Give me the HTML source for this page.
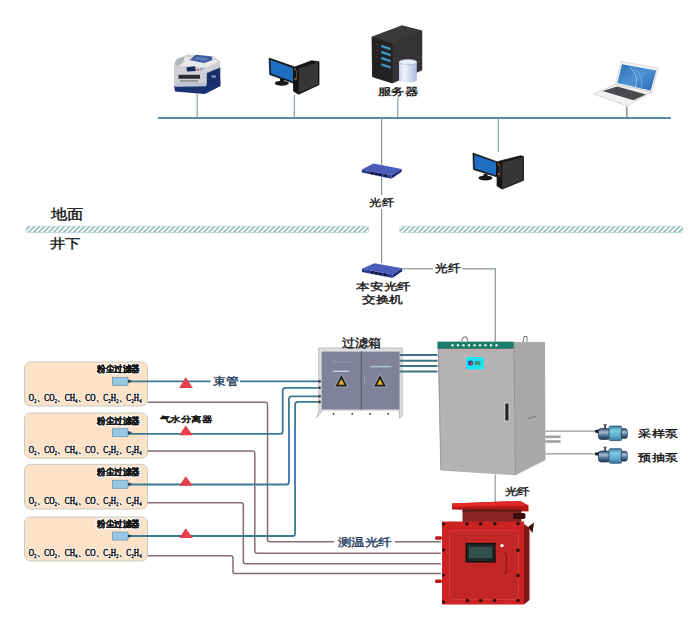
<!DOCTYPE html>
<html><head><meta charset="utf-8">
<style>
html,body{margin:0;padding:0;background:#fff;}
body{width:700px;height:617px;overflow:hidden;position:relative;}
svg{position:absolute;left:0;top:0;}
text{font-family:"Liberation Serif",serif;font-weight:normal;fill:#151515;}
</style></head><body>
<svg width="700" height="617" viewBox="0 0 700 617">
<defs>
<pattern id="hatch" width="5" height="7" patternUnits="userSpaceOnUse" patternTransform="skewX(-45)">
<rect width="5" height="7" fill="#f6fbfb"/>
<rect x="0" width="2.0" height="7" fill="#8eb0b6"/>
</pattern>
<linearGradient id="dbg" x1="0" y1="0" x2="1" y2="0">
<stop offset="0" stop-color="#c9d5ee"/><stop offset="0.3" stop-color="#eef3fc"/><stop offset="1" stop-color="#a9bada"/>
</linearGradient>
<linearGradient id="scr" x1="0" y1="0" x2="1" y2="1">
<stop offset="0" stop-color="#2d6fb8"/><stop offset="0.5" stop-color="#4d92d2"/><stop offset="1" stop-color="#2a68b0"/>
</linearGradient>
<linearGradient id="pumpg" x1="0" y1="0" x2="0" y2="1">
<stop offset="0" stop-color="#3a7aa0"/><stop offset="0.3" stop-color="#7ccce0"/><stop offset="0.7" stop-color="#58aac8"/><stop offset="1" stop-color="#3a78a0"/>
</linearGradient>
<linearGradient id="pumpm" x1="0" y1="0" x2="0" y2="1">
<stop offset="0" stop-color="#2e4a6e"/><stop offset="0.35" stop-color="#a8bcd2"/><stop offset="0.6" stop-color="#5a7a9a"/><stop offset="1" stop-color="#203650"/>
</linearGradient>
</defs>

<!-- ===== top network ===== -->
<line x1="158" y1="118" x2="671" y2="118" stroke="#5b8ca6" stroke-width="1.8"/>
<g stroke="#7f98a4" stroke-width="1.1">
<line x1="197.2" y1="94" x2="197.2" y2="117"/>
<line x1="294.3" y1="95" x2="294.3" y2="117"/>
<line x1="397.8" y1="97.5" x2="397.8" y2="117"/>
<line x1="498.3" y1="119" x2="498.3" y2="152"/>
</g>
<line x1="626.8" y1="106.6" x2="626.8" y2="117" stroke="#7a7a7a" stroke-width="1.3"/>

<!-- trunk -->
<g stroke="#86959b" stroke-width="1.2">
<line x1="381.6" y1="119" x2="381.6" y2="165"/>
<line x1="381.6" y1="177" x2="381.6" y2="195"/>
<line x1="381.6" y1="209" x2="381.6" y2="263"/>
</g>

<!-- hatch bars -->
<rect x="26" y="226.3" width="343" height="6.4" rx="3.2" fill="url(#hatch)" stroke="#b4d2d2" stroke-width="0.7"/>
<rect x="399.5" y="226.3" width="283.5" height="6.4" rx="3.2" fill="url(#hatch)" stroke="#b4d2d2" stroke-width="0.7"/>
<text stroke="#151515" stroke-width="0.35" x="50.58" y="218.82" font-size="14.48" textLength="32.69" lengthAdjust="spacingAndGlyphs">地面</text>
<text stroke="#151515" stroke-width="0.35" x="49.72" y="247.88" font-size="13.45" textLength="30.65" lengthAdjust="spacingAndGlyphs">井下</text>

<!-- switch 1 -->
<g>
<polygon points="361.8,169.5 373.5,163.6 401.7,169 391.5,175.3" fill="#4a5cbc"/>
<polygon points="361.8,169.5 391.5,175.3 391.5,178.7 361.8,172.6" fill="#2b3a92"/>
<polygon points="391.5,175.3 401.7,169 401.7,171.8 391.5,178.7" fill="#1f2b78"/>
<g fill="#101018"><rect x="371" y="172.3" width="2.6" height="2"/><rect x="375" y="173" width="2.6" height="2"/><rect x="379" y="173.7" width="2.6" height="2"/><rect x="384" y="174.6" width="2.6" height="2"/></g>
</g>
<text stroke="#151515" stroke-width="0.35" x="369.24" y="205.72" font-size="9.58" textLength="24.88" lengthAdjust="spacingAndGlyphs">光纤</text>

<!-- switch 2 -->
<g>
<polygon points="361.9,268.8 374.4,263.2 402.2,268.3 392.6,274.6" fill="#4a5cbc"/>
<polygon points="361.9,268.8 392.6,274.6 392.6,277.9 361.9,272" fill="#2b3a92"/>
<polygon points="392.6,274.6 402.2,268.3 402.2,271.2 392.6,277.9" fill="#1f2b78"/>
<g fill="#101018"><rect x="371" y="271.5" width="2.6" height="2"/><rect x="375" y="272.2" width="2.6" height="2"/><rect x="379" y="272.9" width="2.6" height="2"/><rect x="384" y="273.8" width="2.6" height="2"/></g>
</g>
<text stroke="#151515" stroke-width="0.35" x="356.48" y="289.74" font-size="10.06" textLength="54.15" lengthAdjust="spacingAndGlyphs">本安光纤</text>
<text stroke="#151515" stroke-width="0.35" x="362.10" y="303.44" font-size="9.54" textLength="40.91" lengthAdjust="spacingAndGlyphs">交换机</text>

<!-- fiber to cabinet -->
<line x1="402" y1="268.8" x2="433" y2="268.8" stroke="#86959b" stroke-width="1.2"/>
<polyline points="462,268.8 495.3,268.8 495.3,341.5" fill="none" stroke="#86959b" stroke-width="1.2"/>
<text stroke="#151515" stroke-width="0.35" x="435.16" y="271.68" font-size="10.53" textLength="25.60" lengthAdjust="spacingAndGlyphs">光纤</text>

<!-- ===== cabinet ===== -->
<polygon points="513.6,342 545,342 545.5,460 515.5,475.3" fill="#a9a9a9"/>
<polygon points="437.5,341.7 513.6,341.7 515.5,475.3 440.8,470.5" fill="#b3b3b3"/>
<line x1="438.5" y1="350" x2="440.8" y2="470" stroke="#9a9a9a" stroke-width="1"/>
<line x1="513.8" y1="342" x2="515.5" y2="475" stroke="#8e8e8e" stroke-width="0.9"/>
<rect x="437.5" y="341.7" width="76.1" height="7.1" fill="#1b7c6c"/>
<line x1="438" y1="349.8" x2="513" y2="349.8" stroke="#d6a0ae" stroke-width="0.9"/>
<g fill="#e6f2ee">
<circle cx="452.5" cy="345.3" r="1.2"/><circle cx="458" cy="345.3" r="1.2"/><circle cx="463.5" cy="345.3" r="1.2"/><circle cx="469" cy="345.3" r="1.2"/><circle cx="474.5" cy="345.3" r="1.2"/><circle cx="480" cy="345.3" r="1.2"/><circle cx="485.5" cy="345.3" r="1.2"/><circle cx="491" cy="345.3" r="1.2"/><circle cx="496.5" cy="345.3" r="1.2"/>
</g>
<rect x="463.5" y="355" width="22" height="16.5" fill="#c8aeb8" opacity="0.6"/>
<rect x="466" y="357" width="18" height="12.5" fill="#1ee4f2"/>
<circle cx="470.5" cy="363" r="2.5" fill="#2a3aa0"/>
<circle cx="471.3" cy="363.5" r="1.2" fill="#e04040"/>
<rect x="474.5" y="361" width="6" height="4" fill="#3a9a7a"/>
<path d="M461.5,341 L463.5,337 L466.5,337 L468,341" fill="none" stroke="#555" stroke-width="0.9"/>
<path d="M523,342 L524,336.5 L527,336.5 L527,342" fill="none" stroke="#666" stroke-width="0.9"/>
<rect x="504.3" y="402.5" width="5.2" height="19" fill="#d0d0d0"/>
<rect x="505.3" y="403.5" width="3.2" height="17" fill="#262626"/>
<line x1="528" y1="418.5" x2="536" y2="416" stroke="#777" stroke-width="1"/>

<!-- pump lines -->
<line x1="545.5" y1="431.2" x2="596" y2="431.2" stroke="#8e9a9e" stroke-width="1.3"/>
<line x1="545.5" y1="453.8" x2="596" y2="453.8" stroke="#8e9a9e" stroke-width="1.3"/>
<line x1="545.5" y1="436.8" x2="560.5" y2="436.8" stroke="#a0a0a0" stroke-width="2.6"/>
<line x1="545.5" y1="441.5" x2="560.5" y2="441.5" stroke="#a0a0a0" stroke-width="2.6"/>

<!-- pumps -->
<g id="pump">
<polygon points="595,430.2 599,429.3 599,433.5 595,432.4" fill="#1e2228"/>
<rect x="598.4" y="428.4" width="11.5" height="11" rx="3" fill="url(#pumpm)" stroke="#1f3048" stroke-width="0.7"/>
<rect x="609" y="426.1" width="12.8" height="14.5" rx="1.5" fill="url(#pumpg)" stroke="#28486c" stroke-width="0.8"/>
<rect x="621.2" y="428.6" width="6.1" height="10" rx="2.5" fill="url(#pumpm)" stroke="#1f3048" stroke-width="0.7"/>
<rect x="604.3" y="424.5" width="1.6" height="4.2" fill="#24344c"/>
<rect x="603.4" y="424" width="3.4" height="1.3" fill="#7a6450"/>
</g>
<use href="#pump" transform="translate(0,22.6)"/>
<text stroke="#151515" stroke-width="0.35" x="638.48" y="436.6" font-size="10.3" textLength="39.42" lengthAdjust="spacingAndGlyphs">采样泵</text>
<text stroke="#151515" stroke-width="0.35" x="638.48" y="460.9" font-size="10.3" textLength="39.42" lengthAdjust="spacingAndGlyphs">预抽泵</text>

<!-- ===== peach boxes ===== -->
<g fill="#fee2c8" stroke="#c5cec6" stroke-width="1">
<rect x="24.5" y="362" width="123" height="44" rx="6"/>
<rect x="24.5" y="413" width="123" height="45.2" rx="6"/>
<rect x="24.5" y="464.3" width="123" height="44.8" rx="6"/>
<rect x="24.5" y="517" width="123" height="44" rx="6"/>
</g>

<!-- maroon lines -->
<g stroke="#876d74" stroke-width="1.5" fill="none">
<path d="M147.6,402.3 L265.30,402.30 Q267.5,402.3 267.50,404.50 L267.50,539.60 Q267.5,541.8 269.70,541.80 L441,541.8"/>
<path d="M147.6,451 L252.60,451.00 Q254.8,451 254.80,453.20 L254.80,551.10 Q254.8,553.3 257.00,553.30 L441,553.3"/>
<path d="M147.6,502.8 L241.10,502.80 Q243.3,502.8 243.30,505.00 L243.30,561.50 Q243.3,563.7 245.50,563.70 L441,563.7"/>
<path d="M147.6,555.7 L230.80,555.70 Q233,555.7 233.00,557.90 L233.00,571.40 Q233,573.6 235.20,573.60 L441,573.6"/>
</g>

<!-- blue tube lines -->
<g stroke="#3c7a94" stroke-width="1.8" fill="none">
<path d="M128,381.3 L210.5,381.3"/>
<path d="M240,381.3 L319.5,381.3"/>
<path d="M128,433.8 L280.10,433.80 Q282.7,433.8 282.70,431.20 L282.70,390.40 Q282.7,387.8 285.30,387.80 L319.5,387.8"/>
<path d="M128,484.5 L286.30,484.50 Q288.9,484.5 288.90,481.90 L288.90,399.00 Q288.9,396.4 291.50,396.40 L319.5,396.4"/>
<path d="M128,536 L292.50,536.00 Q295.1,536 295.10,533.40 L295.10,404.40 Q295.1,401.8 297.70,401.80 L319.5,401.8"/>
</g>
<g stroke="#4e7cc4" stroke-width="1.7" fill="none">
<line x1="288.9" y1="427" x2="288.9" y2="482"/>
<line x1="295.1" y1="427" x2="295.1" y2="485"/>
</g>

<!-- triangles -->
<g fill="#e6404e">
<polygon points="185.7,377 179.2,388 192.9,388"/>
<polygon points="185.7,425.5 179.2,435.2 192.9,435.2"/>
<polygon points="185.7,476.3 179.2,485.8 192.9,485.8"/>
<polygon points="185.7,528.2 179.2,538 192.9,538"/>
</g>
<text stroke="#1f3d60" stroke-width="0.35" x="213.06" y="384.78" font-size="11.10" style="fill:#1f3d60" textLength="25.35" lengthAdjust="spacingAndGlyphs">束管</text>
<text stroke="#151515" stroke-width="0.5" x="159.72" y="421.88" font-size="8.06" textLength="52.24" lengthAdjust="spacingAndGlyphs">气水分离器</text>
<rect x="334" y="536" width="61" height="11" fill="#fff"/>
<text stroke="#1f3d60" stroke-width="0.35" x="337.58" y="545.64" font-size="11.16" style="fill:#1f3d60" textLength="54.09" lengthAdjust="spacingAndGlyphs">测温光纤</text>

<!-- box contents -->
<g id="boxc">
<text x="97" y="372.3" font-size="8.5" style="font-weight:bold" stroke="#fff" stroke-width="2.2" paint-order="stroke" textLength="43" lengthAdjust="spacingAndGlyphs">粉尘过滤器</text>
<text x="97" y="372.3" font-size="8.5" style="font-weight:bold" stroke="#151515" stroke-width="0.2" textLength="43" lengthAdjust="spacingAndGlyphs">粉尘过滤器</text>
<rect x="112.4" y="377.3" width="15.5" height="8" fill="#96c8e4" stroke="#6d9cb6" stroke-width="0.8"/>
<polygon points="128,379.5 131.5,380.6 131.5,382 128,383" fill="#2a4a60"/>
<text x="28.7" y="401.3" font-size="9.5" font-weight="bold" stroke="#fff" stroke-width="1.8" paint-order="stroke" textLength="113" lengthAdjust="spacingAndGlyphs">O₂、CO₂、CH₄、CO、C₂H₂、C₂H₄</text>
<text x="28.7" y="401.3" font-size="9.5" font-weight="bold" stroke="#151515" stroke-width="0.3" textLength="113" lengthAdjust="spacingAndGlyphs">O₂、CO₂、CH₄、CO、C₂H₂、C₂H₄</text>
</g>
<use href="#boxc" transform="translate(0,51.4)"/>
<use href="#boxc" transform="translate(0,103)"/>
<use href="#boxc" transform="translate(0,154.8)"/>

<!-- ===== filter box ===== -->
<g>
<path d="M318.7,348 L402.2,348 L402.2,416 L399.5,418 L399.5,410 L321.6,410 L321.6,412 L316,418 L318.7,412 Z" fill="#dedede" stroke="#b0b0b0" stroke-width="0.8"/>
<rect x="321.6" y="351.6" width="78" height="57.8" fill="#81819a"/>
<line x1="361.2" y1="351.6" x2="361.2" y2="409.4" stroke="#5c5c70" stroke-width="1.2"/>
<polygon points="341.4,373.5 334.3,387.3 348.5,387.3" fill="#b0b0c4"/>
<polygon points="341.4,375 335.5,386.5 347.3,386.5" fill="#1a1a1a"/>
<polygon points="341.4,379 338.3,384.8 344.5,384.8" fill="#d8b020"/>
<polygon points="380,373.5 372.8,387.3 387.2,387.3" fill="#b0b0c4"/>
<polygon points="380,375 374,386.5 386,386.5" fill="#1a1a1a"/>
<polygon points="380,379 376.9,384.8 383.1,384.8" fill="#d8b020"/>
<rect x="332" y="361.5" width="19" height="0.9" fill="#9296b4"/>
<rect x="333" y="370.6" width="16" height="1.3" fill="#d0d8f4"/>
<rect x="370.5" y="365.8" width="21" height="1.6" fill="#a8c0c8"/>
<rect x="364" y="375" width="1" height="8" fill="#a0a0b0"/>
<g fill="#222"><circle cx="333.5" cy="413.8" r="0.9"/><circle cx="352.2" cy="413.8" r="0.9"/><circle cx="370.1" cy="413.8" r="0.9"/><circle cx="388.2" cy="413.8" r="0.9"/></g>
<g fill="#333"><circle cx="319.6" cy="381.2" r="1.3"/><circle cx="319.6" cy="387.8" r="1.3"/><circle cx="319.6" cy="396.3" r="1.3"/><circle cx="319.6" cy="401.9" r="1.3"/></g>
</g>
<text stroke="#151515" stroke-width="0.35" x="341.50" y="346.64" font-size="11.63" textLength="39.35" lengthAdjust="spacingAndGlyphs">过滤箱</text>

<!-- ===== filter box -> cabinet lines ===== -->
<g stroke="#3e7284" stroke-width="2">
<line x1="399.6" y1="355" x2="437.5" y2="355"/>
<line x1="399.6" y1="360.7" x2="437.5" y2="360.7"/>
<line x1="399.6" y1="366.1" x2="437.5" y2="366.1"/>
<line x1="399.6" y1="371.5" x2="437.5" y2="371.5"/>
</g>

<!-- ===== red box ===== -->
<g>
<line x1="495.2" y1="474.5" x2="495.2" y2="502" stroke="#8f9a9c" stroke-width="1.2"/>
<polygon points="452,503.5 520,501 528.5,505.5 528.5,511.5 452,509.5" fill="#b81616"/>
<polygon points="452,503.5 520,501 528.5,505.5 452,507" fill="#e02828"/>
<rect x="462.5" y="509.5" width="59" height="12.5" fill="#862424"/>
<rect x="462.5" y="509.5" width="59" height="2" fill="#5a1818"/>
<rect x="513" y="513" width="12.5" height="6" rx="2" fill="#3a0c0c"/>
<polygon points="442,521.5 524,521.5 524,604.5 442,604.5" fill="#cc2222"/>
<polygon points="524,524 529.5,528 529.5,600 524,604.5" fill="#7e1616"/>
<rect x="449.5" y="530.5" width="69" height="69" rx="3" fill="#c22626" stroke="#d83a3a" stroke-width="0.9"/>
<rect x="466.3" y="543.6" width="28.6" height="18.2" fill="#1c2c2a" stroke="#0e0e0e" stroke-width="1.4"/>
<rect x="469" y="547" width="23" height="11" fill="#33504a"/>
<circle cx="502" cy="545.6" r="1.7" fill="#fff"/>
<path d="M503.8,551.5 Q506.5,553 506.5,556 L506.5,571 Q506,573.5 504,573.5" fill="none" stroke="#941616" stroke-width="1.3"/>
<g fill="#2e0e0e">
<circle cx="467" cy="523.8" r="1.8"/><circle cx="480.6" cy="523.8" r="1.8"/><circle cx="494.8" cy="523.8" r="1.8"/>
<circle cx="518" cy="523.5" r="1.8"/><circle cx="518" cy="550.3" r="1.8"/><circle cx="518" cy="575.5" r="1.8"/><circle cx="518" cy="600.5" r="1.8"/>
<circle cx="443.5" cy="524" r="1.6"/><circle cx="443.5" cy="550" r="1.6"/><circle cx="443.5" cy="575" r="1.6"/><circle cx="443.5" cy="602" r="1.6"/>
<circle cx="467.4" cy="600.5" r="1.8"/><circle cx="480.7" cy="600.5" r="1.8"/><circle cx="494.6" cy="600.5" r="1.8"/>
</g>
<g fill="#c01616">
<rect x="435" y="536.3" width="7" height="3.4" rx="1.5"/>
<rect x="435" y="579.6" width="7" height="3.4" rx="1.5"/>
</g>
<polygon points="528,527 534,522.5 532.5,533" fill="#3a0c0c"/>
</g>
<text stroke="#151515" stroke-width="0.35" x="504.56" y="495.40" font-size="10.30" textLength="25.28" lengthAdjust="spacingAndGlyphs">光纤</text>

<!-- ===== printer ===== -->
<g>
<polygon points="174,64 177,58.5 188,54.5 213,56 220.3,61.5 220.3,68 206.7,73 206.7,85 174,86" fill="#cfd0d5"/>
<polygon points="176,63 186,57 212,58 218.5,62 206,67.5 177,65.5" fill="#e9e9ec"/>
<path d="M174.5,64 Q176,57.5 184,57 Q186,62 178,66 Z" fill="#b4b6bd"/>
<polygon points="189.5,60 196,54.8 211.5,56.6 212.5,60 204,63" fill="#3858a0"/>
<polygon points="193,59.5 197,56.5 209,58 205,61" fill="#5a78b8"/>
<polygon points="186.5,67.2 195,66.2 196,71 187,71.5" fill="#18285e"/>
<rect x="178.5" y="74.8" width="21.5" height="4" fill="#2e2e30"/>
<rect x="180" y="80.2" width="18" height="1.6" fill="#8a8a8e"/>
<rect x="176" y="83" width="29" height="1.3" fill="#b8bcc6"/>
<circle cx="198.2" cy="69.8" r="1" fill="#c83a3a"/><circle cx="201.2" cy="69.2" r="1" fill="#6a7ab8"/><circle cx="203.8" cy="68.6" r="0.8" fill="#8a9ad0"/>
<polygon points="206.7,73 220.3,67.5 220.3,86 205,94 206.7,85" fill="#1a2f6a"/>
<polygon points="174,85.5 206.7,84.5 220.3,78.5 220.3,86 204,94 175,91.5" fill="#1a3272"/>
<polygon points="174.5,85 206.7,84 206,86.2 174.5,86.8" fill="#c4cad6"/>
<rect x="211.5" y="75.5" width="4.5" height="2" fill="#8aa0d0"/>
</g>

<!-- ===== computer 1 ===== -->
<g>
<path d="M280,79 L280,82 L276,83.5 Q281.5,86 288,83.5 L284,82 L284,79 Z" fill="#151515"/>
<ellipse cx="281.8" cy="83.2" rx="7" ry="2.5" fill="#181818"/>
<polygon points="269.1,57.9 294.2,66.8 294.2,83.5 269.6,74.6" fill="#0d0d0d" stroke="#0d0d0d" stroke-width="0.6" stroke-linejoin="round"/>
<polygon points="270.4,59.8 293,67.9 293,81.8 270.8,73.6" fill="#1d6ec0"/>
<polygon points="293.5,67.5 311.5,60.8 319,61.8 319,84.8 298.6,94.2 293.5,91.2" fill="#141414" stroke="#141414" stroke-width="0.8" stroke-linejoin="round"/>
<polygon points="298.8,68.2 318,62.2 318,84.2 298.8,93" fill="#363636"/>
<rect x="294.4" y="68.5" width="1.3" height="2" fill="#b86a30"/><rect x="294.4" y="78" width="1.3" height="2" fill="#b86a30"/>
<rect x="296" y="70" width="1" height="10" fill="#4a4a58"/>
</g>

<!-- ===== server ===== -->
<g>
<polygon points="371.9,37 402,25.7 421.9,30.8 421.9,70 392.3,83 372.5,76.8" fill="#262626" stroke="#262626" stroke-width="0.6" stroke-linejoin="round"/>
<polygon points="392.3,43.8 421.9,30.8 421.9,70 392.3,83" fill="#343434"/>
<polygon points="371.9,37 402,25.7 421.9,30.8 392.3,43.8" fill="#3a3a3a"/>
<polygon points="371.9,37 392.3,43.8 392.3,83 372.5,76.8" fill="#222"/>
<g fill="#2a6c92">
<polygon points="381,44.6 391,47.8 391,50.6 381,47.4"/>
<polygon points="381,50.6 391,53.8 391,56.6 381,53.4"/>
<polygon points="381,56.6 391,59.8 391,62.6 381,59.4"/>
<polygon points="381,63 391,66.2 391,69 381,65.8"/>
</g>
<g fill="#58a8d0">
<polygon points="382,45.6 390,48.2 390,49.4 382,46.8"/>
<polygon points="382,51.6 390,54.2 390,55.4 382,52.8"/>
<polygon points="382,57.6 390,60.2 390,61.4 382,58.8"/>
<polygon points="382,64 390,66.6 390,67.8 382,65.2"/>
</g>
<g fill="#5a2a2a">
<rect x="375.5" y="44" width="3" height="1"/><rect x="375.5" y="50" width="3" height="1"/><rect x="375.5" y="56" width="3" height="1"/>
</g>
<path d="M399,62 L399,80 A8.9,2.6 0 0 0 416.8,80 L416.8,62 Z" fill="url(#dbg)"/>
<ellipse cx="407.9" cy="62" rx="8.9" ry="2.6" fill="#e8eefa" stroke="#a8b8d8" stroke-width="0.6"/>
</g>
<text stroke="#151515" stroke-width="0.35" x="377.58" y="95.28" font-size="10.44" textLength="40.41" lengthAdjust="spacingAndGlyphs">服务器</text>

<!-- ===== laptop ===== -->
<g>
<polygon points="620.9,61.4 658.6,68.3 651.7,92.3 615.7,84.3" fill="#f4f4f4" stroke="#d0d0d0" stroke-width="0.7"/>
<polygon points="622,64.3 656.3,70.6 650.6,90.6 617.4,83.1" fill="url(#scr)"/>
<path d="M630,67 Q640,77 635,88" fill="none" stroke="#8fc0ea" stroke-width="1"/>
<path d="M634,67.5 Q645,77 641,89" fill="none" stroke="#7ab0e2" stroke-width="0.8"/>
<polygon points="593.4,94 615.7,84.3 652.3,91.7 627.7,106" fill="#f0f0f1" stroke="#c8c8c8" stroke-width="0.7"/>
<polygon points="602.6,91.1 617.4,86.6 646,94.6 633.4,100.3" fill="#4a4a4e"/>
</g>

<!-- ===== computer 2 ===== -->
<g>
<path d="M483.5,174 L483.5,177 L479.5,178.5 Q485,181 491.5,178.5 L487.5,177 L487.5,174 Z" fill="#151515"/>
<ellipse cx="485.4" cy="178" rx="7" ry="2.5" fill="#181818"/>
<polygon points="472.9,152.9 497,161.7 497,177 473.4,169.6" fill="#0d0d0d" stroke="#0d0d0d" stroke-width="0.6" stroke-linejoin="round"/>
<polygon points="474.2,154.8 496,162.6 496,175.4 474.6,168.6" fill="#1d6ec0"/>
<polygon points="497.3,161.7 520.7,155.7 523.5,156.6 523.5,180.3 502.1,189.1 497,185.9" fill="#141414" stroke="#141414" stroke-width="0.8" stroke-linejoin="round"/>
<polygon points="502.3,162.5 522.6,157.2 522.6,179.8 502.3,188" fill="#363636"/>
<rect x="498" y="163.5" width="1.3" height="2" fill="#b86a30"/><rect x="498" y="173" width="1.3" height="2" fill="#b86a30"/>
<rect x="499.6" y="165" width="1" height="12" fill="#4a4a58"/>
</g>
</svg>
</body></html>
